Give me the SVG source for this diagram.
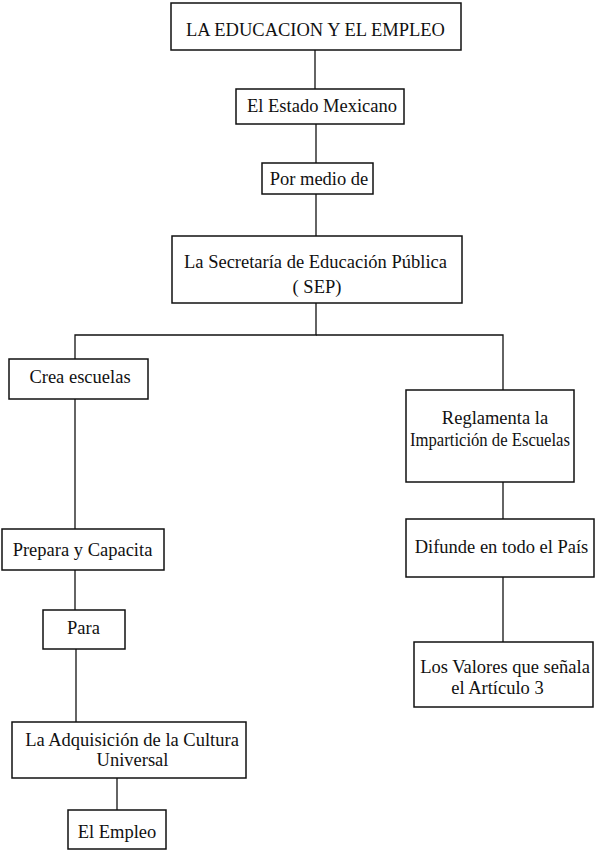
<svg xmlns="http://www.w3.org/2000/svg" width="601" height="851" viewBox="0 0 601 851">
<style>
rect{fill:#fff;stroke:#111;stroke-width:1.5}
text{font-family:"Liberation Serif","Times New Roman",serif;font-size:18.5px;fill:#111;text-anchor:middle}
.c line,.c polyline{stroke:#111;stroke-width:1.3;fill:none}
</style>
<rect x="0" y="0" width="601" height="851" style="stroke:none"/>
<g class="c" id="connectors">
<line x1="315" y1="50" x2="315" y2="89"/>
<line x1="316" y1="124" x2="316" y2="163"/>
<line x1="316" y1="194" x2="316" y2="236"/>
<polyline points="316,303 316,335 75,335 75,359"/>
<polyline points="316,335 503,335 503,390"/>
<line x1="75" y1="399" x2="75" y2="529"/>
<line x1="75" y1="570" x2="75" y2="610"/>
<line x1="76" y1="649" x2="76" y2="722"/>
<line x1="117" y1="778" x2="117" y2="810"/>
<line x1="503" y1="482" x2="503" y2="519"/>
<line x1="503" y1="577" x2="503" y2="642"/>
</g>
<g id="n1"><rect x="171" y="3" width="290" height="47"/><text x="315.5" y="36">LA EDUCACION Y EL EMPLEO</text></g>
<g id="n2"><rect x="236" y="89" width="168" height="35"/><text x="322" y="112">El Estado Mexicano</text></g>
<g id="n3"><rect x="262" y="163" width="111" height="31"/><text x="319" y="185">Por medio de</text></g>
<g id="n4"><rect x="172" y="236" width="290" height="67"/><text x="315.5" y="268">La Secretaría de Educación Pública</text><text x="317" y="293">( SEP)</text></g>
<g id="n5"><rect x="9" y="359" width="139" height="40"/><text x="80" y="383">Crea escuelas</text></g>
<g id="n6"><rect x="406" y="390" width="168" height="92"/><text x="495" y="424">Reglamenta la</text><text x="490" y="446" textLength="160" lengthAdjust="spacingAndGlyphs">Impartición de Escuelas</text></g>
<g id="n7"><rect x="2" y="529" width="162" height="41"/><text x="82.5" y="556">Prepara y Capacita</text></g>
<g id="n8"><rect x="43" y="610" width="82" height="39"/><text x="83.5" y="634">Para</text></g>
<g id="n9"><rect x="12" y="722" width="234" height="56"/><text x="132" y="746">La Adquisición de la Cultura</text><text x="132.5" y="766">Universal</text></g>
<g id="n10"><rect x="68" y="810" width="98" height="39"/><text x="117" y="838">El Empleo</text></g>
<g id="n11"><rect x="406" y="519" width="188" height="58"/><text x="501.5" y="553">Difunde en todo el País</text></g>
<g id="n12"><rect x="414" y="642" width="179" height="65"/><text x="505" y="673">Los Valores que señala</text><text x="497.5" y="694">el Artículo 3</text></g>
</svg>
